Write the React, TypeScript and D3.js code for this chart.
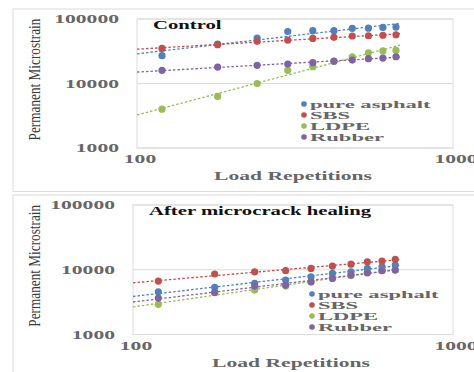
import * as d3 from "d3";

// load repetitions (x) and the four mixes
const loadReps = [120, 180, 240, 300, 360, 420, 480, 540, 600, 660];
const seriesNames = ["pure asphalt", "SBS", "LDPE", "Rubber"];
const seriesColors = ["#4F81BD", "#C0504D", "#9BBB59", "#8064A2"];

const controlPure = [27000, 41000, 50700, 64000, 66000, 66000, 71700, 72000, 74000, 75000];
const controlSBS = [35000, 40000, 45000, 47000, 50000, 52000, 54500, 55000, 56000, 57000];
const controlLDPE = [4000, 6300, 10000, 16000, 18200, 22000, 26000, 30000, 32000, 32700];
const controlRubber = [16000, 18000, 19100, 20000, 21000, 22300, 23100, 24300, 24800, 26000];

const healedPure = [4570, 5350, 6160, 6930, 7800, 8790, 9300, 10500, 11100, 11800];
const healedSBS = [6680, 8590, 9300, 9660, 10500, 11400, 12200, 13300, 13600, 14500];
const healedLDPE = [2920, 4440, 4850, 5600, 6460, 7310, 8130, 9000, 9660, 9900];
const healedRubber = [3650, 4470, 5600, 5800, 6530, 7360, 8280, 9000, 9660, 9900];

const yTicks = [1000, 10000, 100000];
const xTicks = [100, 1000];

const FONT = "'Liberation Serif', 'DejaVu Serif', serif";
const SX = 1.8; // the picture is stretched sideways

// power trendline = least squares in log-log space
function powerFit(xs: number[], ys: number[]) {
  const lx = xs.map(Math.log10);
  const ly = ys.map(Math.log10);
  const mx = d3.mean(lx)!;
  const my = d3.mean(ly)!;
  const slope = d3.sum(lx, (v, i) => (v - mx) * (ly[i] - my)) / d3.sum(lx, (v) => (v - mx) ** 2);
  const icpt = my - slope * mx;
  return (x: number) => Math.pow(10, icpt + slope * Math.log10(x));
}

const Wide = ({ x, y, anchor = "start", size = 12, weight = "bold", fill = "#666", sx = SX, children }: any) => (
  <text
    transform={`translate(${x},${y}) scale(${sx},1)`}
    textAnchor={anchor}
    dominantBaseline="central"
    fontFamily={FONT}
    fontSize={size}
    fontWeight={weight}
    fill={fill}
  >
    {children}
  </text>
);

const Panel = ({ box, plot, title, data, legendX, legendY }: any) => {
  const x = d3.scaleLog().domain([100, 1000]).range([plot.left, plot.right]);
  const y = d3.scaleLog().domain([1000, 100000]).range([plot.bottom, plot.top]);
  const trendX = [100, 680];

  return (
    <g>
      <rect x={box.x} y={box.y} width={box.w} height={box.h} fill="#fff" stroke="#dcdcdc" strokeWidth={1} />
      <rect
        x={plot.left}
        y={plot.top}
        width={plot.right - plot.left}
        height={plot.bottom - plot.top}
        fill="none"
        stroke="#dcdcdc"
        strokeWidth={1}
      />
      {yTicks.map((t) => (
        <g key={t}>
          <line x1={plot.left} x2={plot.right} y1={y(t)} y2={y(t)} stroke="#dcdcdc" strokeWidth={1} />
          <Wide x={plot.left - 18} y={y(t)} anchor="end" size={12}>
            {String(t)}
          </Wide>
        </g>
      ))}
      {xTicks.map((t) => (
        <Wide key={t} x={x(t) + 3} y={plot.bottom + 11} anchor="middle" size={12}>
          {String(t)}
        </Wide>
      ))}
      <Wide x={(plot.left + plot.right) / 2 - 2} y={plot.bottom + 28} anchor="middle" size={12}>
        Load Repetitions
      </Wide>
      <text
        transform={`translate(${box.x + 21},${(plot.top + plot.bottom) / 2 - 4}) rotate(-90) scale(0.78,1)`}
        textAnchor="middle"
        dominantBaseline="central"
        fontFamily={FONT}
        fontSize={17}
        fill="#3a3a3a"
      >
        Permanent Microstrain
      </text>

      {data.map((vals: number[], i: number) => {
        const f = powerFit(loadReps, vals);
        const line = d3
          .line<number>()
          .x((d) => x(d))
          .y((d) => y(f(d)));
        return (
          <path
            key={"t" + i}
            d={line(d3.range(trendX[0], trendX[1] + 1, 10))!}
            fill="none"
            stroke={seriesColors[i]}
            strokeWidth={1.3}
            strokeDasharray="2.5,2"
          />
        );
      })}
      {data.map((vals: number[], i: number) =>
        vals.map((v, j) => (
          <circle key={i + "-" + j} cx={x(loadReps[j])} cy={y(v)} r={3.6} fill={seriesColors[i]} />
        ))
      )}

      <Wide x={plot.left + 16} y={plot.top + 6} size={11.5} fill="#111">
        {title}
      </Wide>

      {seriesNames.map((n, i) => (
        <g key={n}>
          <circle cx={legendX} cy={legendY + i * 11} r={2.8} fill={seriesColors[i]} />
          <Wide x={legendX + 6} y={legendY + i * 11} size={10.5} sx={2.15}>
            {n}
          </Wide>
        </g>
      ))}
    </g>
  );
};

export default function App() {
  return (
    <svg width={474} height={372} style={{ position: "absolute", left: 0, top: 0, background: "#fff" }}>
      <Panel
        box={{ x: 13, y: 9, w: 470, h: 182.5 }}
        plot={{ left: 137, right: 453, top: 19, bottom: 148 }}
        title="Control"
        data={[controlPure, controlSBS, controlLDPE, controlRubber]}
        legendX={304}
        legendY={104}
      />
      <Panel
        box={{ x: 13, y: 195, w: 470, h: 190 }}
        plot={{ left: 133, right: 453, top: 205, bottom: 334.5 }}
        title="After microcrack healing"
        data={[healedPure, healedSBS, healedLDPE, healedRubber]}
        legendX={312}
        legendY={294}
      />
    </svg>
  );
}
